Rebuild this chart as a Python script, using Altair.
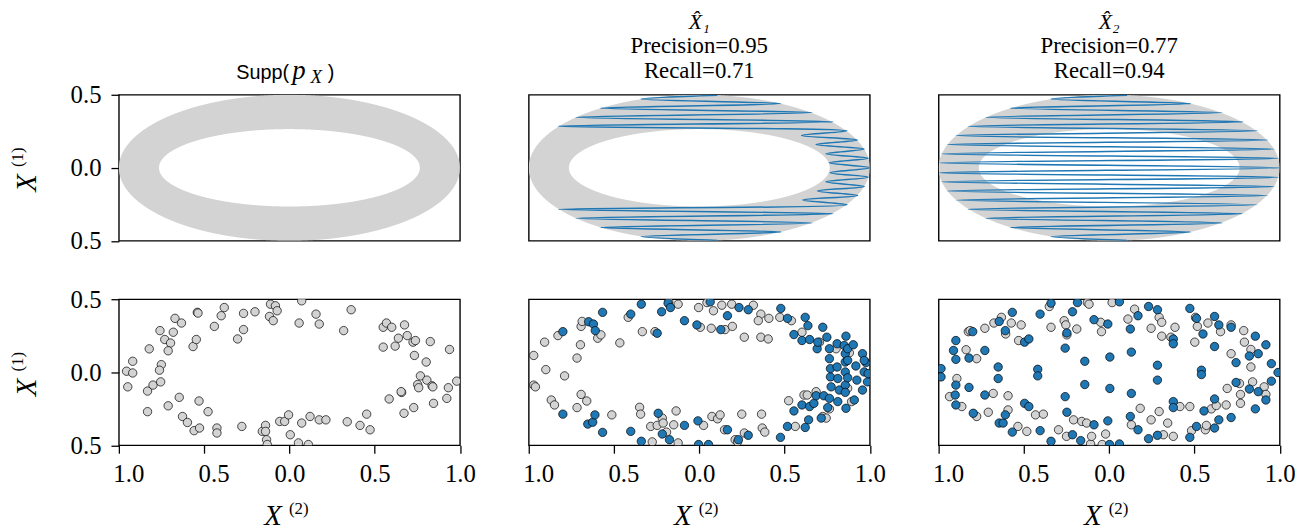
import altair as alt
import pandas as pd

GRAY = "#d3d3d3"
BLUE = "#1f77b4"
SERIF = "Liberation Serif"
SANS = "Liberation Sans"

# ---------------- data ----------------
outer_axes = [1.0, 0.5]      # semi-axes of the outer ellipse of the support
inner_axes = [0.765, 0.265]  # semi-axes of the inner (empty) ellipse

x_ticks = [-1.0, -0.5, 0.0, 0.5, 1.0]
y_ticks = [-0.5, 0.0, 0.5]

model_names = ["X\u0302\u2081", "X\u0302\u2082"]
precisions = ["0.95", "0.77"]
recalls = ["0.71", "0.94"]

# turning points of the generated curves (top to bottom)
zz_y = [0.497, 0.471, 0.440, 0.409, 0.378, 0.346, 0.315, 0.284, 0.253, 0.221, 0.190,
        0.159, 0.128, 0.096, 0.065, 0.034, 0.000, -0.034, -0.065, -0.096, -0.128, -0.159,
        -0.190, -0.221, -0.253, -0.284, -0.315, -0.346, -0.378, -0.409, -0.440, -0.471, -0.497]
zz1_x = [0.105, -0.341, 0.478, -0.580, 0.661, -0.723, 0.783, -0.826, 0.866, 0.600, 0.928,
         0.684, 0.967, 0.742, 0.990, 0.762, 1.000, 0.767, 0.990, 0.742, 0.967, 0.693,
         0.928, 0.607, 0.866, -0.826, 0.783, -0.723, 0.661, -0.580, 0.478, -0.341, 0.105]
zz2_x = [0.105, -0.341, 0.478, -0.580, 0.661, -0.723, 0.783, -0.826, 0.866, -0.897, 0.928,
         -0.948, 0.967, -0.981, 0.990, -0.994, 1.000, -0.994, 0.990, -0.981, 0.967, -0.948,
         0.928, -0.897, 0.866, -0.826, 0.783, -0.723, 0.661, -0.580, 0.478, -0.341, 0.105]

supp_points = [
    (-0.955, 0.007), (-0.919, 0.075), (-0.919, -0.005), (-0.948, -0.10), (-0.822, 0.16),
    (-0.832, -0.129), (-0.80, -0.088), (-0.832, -0.27), (-0.759, 0.285), (-0.731, 0.224),
    (-0.697, 0.20), (-0.711, 0.147), (-0.751, 0.052), (-0.762, 0.014), (-0.755, -0.066),
    (-0.711, -0.23), (-0.681, 0.274), (-0.671, 0.369), (-0.633, 0.337), (-0.646, -0.172),
    (-0.627, -0.303), (-0.598, -0.344), (-0.559, -0.40), (-0.527, -0.382), (-0.53, -0.197),
    (-0.565, 0.176), (-0.546, 0.224), (-0.540, 0.41), (-0.536, 0.405), (-0.477, -0.27),
    (-0.44, 0.314), (-0.425, -0.382), (-0.425, -0.416), (-0.40, 0.387), (-0.382, 0.443),
    (-0.304, 0.228), (-0.269, 0.292), (-0.269, 0.403), (-0.279, -0.371), (-0.202, 0.414),
    (-0.159, -0.405), (-0.14, -0.364), (-0.14, -0.405), (-0.134, -0.462), (-0.13, -0.495),
    (-0.111, 0.466), (-0.082, 0.455), (-0.117, 0.382), (-0.095, 0.353), (-0.072, 0.421),
    (-0.057, -0.337), (-0.028, -0.337), (-0.005, -0.292), (0.005, -0.428), (0.053, -0.484),
    (0.057, 0.337), (0.072, 0.489), (0.072, -0.348), (0.111, -0.495), (0.121, -0.303),
    (0.156, 0.398), (0.175, 0.33), (0.175, -0.326), (0.214, -0.326), (0.318, 0.285),
    (0.339, -0.339), (0.362, 0.428), (0.414, -0.364), (0.453, -0.287), (0.473, -0.394),
    (0.55, 0.308), (0.569, 0.337), (0.55, 0.172), (0.60, 0.308), (0.585, -0.183),
    (0.62, 0.179), (0.639, 0.233), (0.658, -0.138), (0.672, -0.281), (0.675, 0.324),
    (0.691, 0.251), (0.725, 0.206), (0.739, 0.217), (0.729, -0.242), (0.733, 0.115),
    (0.752, -0.084), (0.758, -0.106), (0.768, -0.025), (0.802, 0.07), (0.806, -0.054),
    (0.826, 0.21), (0.836, -0.093), (0.841, -0.10), (0.845, -0.213), (0.932, -0.106),
    (0.923, -0.179), (0.939, 0.156), (0.981, -0.061), (0.655, -0.133),
]

x1_gray = [
    (-0.971, 0.115), (-0.971, -0.088), (-0.961, -0.10), (-0.90, 0.018), (-0.907, 0.206),
    (-0.868, -0.19), (-0.849, -0.224), (-0.829, 0.251), (-0.79, -0.025), (-0.717, 0.097),
    (-0.697, 0.188), (-0.693, 0.314), (-0.687, 0.348), (-0.693, -0.152), (-0.66, -0.197),
    (-0.717, -0.242), (-0.596, 0.233), (-0.577, 0.256), (-0.513, -0.292), (-0.466, 0.201),
    (-0.417, 0.376), (-0.334, 0.278), (-0.35, -0.24), (-0.344, -0.287), (-0.285, -0.371),
    (-0.26, 0.278), (-0.276, -0.477), (-0.247, -0.364), (-0.217, -0.314), (-0.212, -0.348),
    (-0.192, -0.41), (-0.179, 0.482), (-0.15, -0.36), (-0.136, -0.265), (-0.124, -0.484),
    (-0.124, 0.466), (-0.004, 0.443), (0.006, 0.308), (0.025, -0.364), (0.045, 0.477),
    (0.07, 0.301), (0.074, -0.303), (0.083, 0.421), (0.107, -0.319), (0.122, -0.292),
    (0.132, 0.459), (0.151, 0.292), (0.148, -0.394), (0.194, 0.314), (0.19, 0.466),
    (0.21, -0.462), (0.225, -0.477), (0.249, -0.287), (0.264, -0.416), (0.264, 0.24),
    (0.317, 0.459), (0.361, 0.398), (0.346, 0.353), (0.365, -0.287), (0.369, -0.382),
    (0.384, -0.41), (0.361, 0.24), (0.404, 0.228), (0.408, 0.369), (0.472, 0.376),
    (0.54, 0.353), (0.524, -0.195), (0.563, -0.371), (0.602, 0.274), (0.614, -0.156),
    (0.633, -0.156), (0.685, -0.133), (0.705, 0.206), (0.724, -0.303), (0.744, -0.314),
    (0.763, -0.251), (0.802, 0.161), (0.87, -0.11), (0.893, -0.201), (0.88, 0.133),
]

x1_blue = [
    (-0.80, 0.278), (-0.80, -0.287), (-0.649, 0.346), (-0.621, 0.33), (-0.61, 0.285),
    (-0.567, 0.41), (-0.654, -0.355), (-0.625, -0.342), (-0.612, -0.292), (-0.567, -0.412),
    (-0.402, 0.398), (-0.34, 0.466), (-0.402, -0.405), (-0.34, -0.473), (-0.247, 0.267),
    (-0.241, -0.281), (-0.221, 0.414), (-0.217, -0.423), (-0.183, 0.473), (-0.169, 0.443),
    (-0.175, -0.462), (-0.087, 0.353), (-0.087, -0.364), (-0.014, 0.324), (-0.008, -0.333),
    (-0.004, -0.495), (0.054, -0.495), (0.064, 0.482), (0.126, 0.292), (0.165, 0.387),
    (0.165, -0.394), (0.229, -0.462), (0.233, 0.443), (0.287, 0.428), (0.287, -0.432),
    (0.478, 0.437), (0.476, -0.446), (0.517, 0.369), (0.517, -0.371), (0.555, 0.258),
    (0.555, -0.265), (0.602, 0.217), (0.602, -0.224), (0.621, 0.376), (0.637, 0.319),
    (0.641, -0.326), (0.621, -0.378), (0.647, 0.224), (0.647, -0.235), (0.672, -0.213),
    (0.685, -0.161), (0.691, 0.161), (0.695, 0.206), (0.715, -0.314), (0.724, 0.308),
    (0.73, -0.161), (0.748, 0.24), (0.753, -0.242), (0.763, 0.093), (0.763, 0.161),
    (0.769, -0.032), (0.773, -0.10), (0.763, -0.179), (0.769, 0.025), (0.808, 0.036),
    (0.808, 0.195), (0.812, -0.043), (0.812, -0.201), (0.821, -0.122), (0.85, 0.183),
    (0.856, 0.127), (0.856, 0.07), (0.856, 0.002), (0.856, -0.088), (0.856, -0.138),
    (0.86, -0.247), (0.86, 0.247), (0.87, 0.161), (0.87, 0.081), (0.87, -0.038),
    (0.903, 0.188), (0.909, -0.19), (0.918, 0.043), (0.924, -0.054), (0.957, 0.127),
    (0.957, -0.122), (0.967, 0.002), (0.977, 0.066), (0.986, -0.066), (0.99, -0.009),
    (0.967, 0.081),
]

x2_gray = [
    (-0.893, -0.043), (-0.936, -0.167), (-0.864, -0.235), (-0.839, 0.154), (-0.826, 0.278),
    (-0.816, 0.285), (-0.777, 0.093), (-0.777, -0.303), (-0.729, 0.301), (-0.709, -0.274),
    (-0.68, -0.145), (-0.676, 0.337), (-0.632, 0.376), (-0.607, 0.262), (-0.593, -0.161),
    (-0.593, -0.258), (-0.574, 0.337), (-0.535, -0.371), (-0.531, 0.217), (-0.516, 0.324),
    (-0.483, -0.405), (-0.432, -0.292), (-0.386, -0.287), (-0.351, 0.45), (-0.341, 0.308),
    (-0.297, -0.394), (-0.264, 0.353), (-0.254, 0.324), (-0.248, 0.256), (-0.25, -0.439),
    (-0.209, -0.326), (-0.19, 0.296), (-0.161, -0.337), (-0.132, -0.348), (-0.128, 0.477),
    (-0.118, 0.466), (-0.109, -0.491), (-0.103, -0.439), (-0.05, 0.342), (-0.041, -0.495),
    (-0.045, 0.278), (-0.021, -0.423), (0.017, 0.477), (0.11, 0.364), (0.13, -0.36),
    (0.149, 0.432), (0.182, -0.247), (0.246, 0.301), (0.246, -0.326), (0.293, 0.376),
    (0.293, -0.269), (0.308, 0.342), (0.308, 0.247), (0.318, -0.428), (0.343, -0.348),
    (0.376, -0.439), (0.386, 0.308), (0.362, 0.24), (0.415, -0.235), (0.473, -0.235),
    (0.483, -0.40), (0.506, 0.376), (0.517, 0.314), (0.502, 0.206), (0.564, -0.394),
    (0.57, -0.364), (0.579, 0.337), (0.599, -0.251), (0.628, -0.228), (0.653, 0.278),
    (0.686, -0.224), (0.692, -0.111), (0.715, 0.324), (0.715, 0.127), (0.764, -0.077),
    (0.77, -0.152), (0.77, -0.213), (0.789, 0.285), (0.793, 0.206), (0.831, 0.156),
    (0.831, 0.036), (0.841, -0.066), (0.909, -0.10), (0.919, -0.152),
]

x2_blue = [
    (-0.986, 0.025), (-0.986, -0.032), (-0.913, 0.149), (-0.899, 0.217), (-0.899, 0.088),
    (-0.899, -0.088), (-0.903, -0.156), (-0.899, -0.224), (-0.822, 0.097), (-0.822, -0.104),
    (-0.80, 0.278), (-0.797, -0.281), (-0.729, 0.149), (-0.729, -0.156), (-0.651, 0.036),
    (-0.651, -0.043), (-0.645, 0.348), (-0.645, -0.348), (-0.622, -0.348), (-0.609, 0.285),
    (-0.609, -0.292), (-0.568, 0.41), (-0.568, -0.41), (-0.496, 0.206), (-0.496, -0.213),
    (-0.471, 0.228), (-0.471, -0.235), (-0.419, 0.02), (-0.419, -0.025), (-0.405, 0.398),
    (-0.405, -0.40), (-0.341, 0.473), (-0.341, -0.473), (-0.258, 0.165), (-0.258, -0.167),
    (-0.248, 0.269), (-0.248, -0.274), (-0.215, 0.414), (-0.215, -0.428), (-0.186, 0.477),
    (-0.167, -0.468), (-0.143, 0.075), (-0.143, -0.084), (-0.089, 0.36), (-0.089, -0.36),
    (-0.008, 0.33), (-0.008, -0.333), (0.004, 0.104), (0.004, -0.111), (0.002, -0.495),
    (0.06, 0.482), (0.06, -0.491), (0.124, 0.296), (0.124, -0.303), (0.13, 0.138),
    (0.13, -0.145), (0.169, 0.387), (0.169, -0.394), (0.231, 0.45), (0.231, -0.455),
    (0.283, 0.428), (0.283, -0.432), (0.283, 0.048), (0.283, -0.054), (0.376, 0.228),
    (0.376, 0.195), (0.376, -0.201), (0.376, -0.242), (0.473, 0.437), (0.473, -0.446),
    (0.512, 0.369), (0.512, -0.371), (0.541, 0.014), (0.541, -0.016), (0.55, 0.262),
    (0.556, -0.265), (0.618, 0.382), (0.618, 0.176), (0.618, -0.183), (0.618, -0.382),
    (0.643, 0.324), (0.643, -0.326), (0.715, 0.308), (0.715, -0.31), (0.744, 0.066),
    (0.744, -0.07), (0.822, 0.111), (0.822, -0.115), (0.857, 0.247), (0.857, -0.251),
    (0.874, 0.127), (0.874, -0.133), (0.919, 0.188), (0.919, -0.19), (0.951, 0.059),
    (0.951, -0.061), (0.99, -0.002),
]

# ---------------- chart ----------------
W, H = 344.5, 147.5
xs = alt.Scale(domain=[-1, 1], nice=False, zero=False, padding=0)
ys = alt.Scale(domain=[-0.5, 0.5], nice=False, zero=False, padding=0)
LABEL_EXPR = "format(abs(datum.value), '.1f')"


def x_axis(show):
    if not show:
        return None
    # negative labels keep the (invisible) minus sign's room, as in the original
    return alt.Axis(values=x_ticks, labelExpr=LABEL_EXPR, title=None, labelPadding=9,
                    labelOffset={"condition": {"test": "datum.value < 0", "value": 9.5},
                                 "value": 0})


def y_axis(show):
    if not show:
        return None
    return alt.Axis(values=y_ticks, labelExpr=LABEL_EXPR, title=None, labelPadding=10)


def enc(xf, yf, sx, sy):
    return dict(
        x=alt.X(xf, type="quantitative", scale=xs, axis=x_axis(sx)),
        y=alt.Y(yf, type="quantitative", scale=ys, axis=y_axis(sy)),
    )


def ellipse_area(axes, color, sy):
    a, b = axes
    return (
        alt.Chart(alt.sequence(-a, a + 0.0005, 0.002, as_="t"))
        .transform_calculate(top=f"{b} * sqrt(max(0, 1 - pow(datum.t / {a}, 2)))")
        .transform_calculate(bot="-datum.top")
        .mark_area(color=color, clip=True, opacity=1)
        .encode(**enc("t", "top", False, sy), y2="bot:Q")
    )


def ring(sy):
    return [ellipse_area(outer_axes, GRAY, sy), ellipse_area(inner_axes, "white", sy)]


def zigzag(xvals):
    df = pd.DataFrame({"i": list(range(len(xvals))), "x": xvals, "y": zz_y})
    return (
        alt.Chart(df)
        .mark_line(color=BLUE, strokeWidth=1.5, clip=True, interpolate="catmull-rom")
        .encode(**enc("x", "y", False, False), order="i:Q")
    )


def dots(points, color, sx, sy):
    df = pd.DataFrame(points, columns=["x", "y"])
    return (
        alt.Chart(df)
        .mark_circle(size=72, fill=color, stroke="black", strokeWidth=0.7, opacity=1, clip=True)
        .encode(**enc("x", "y", sx, sy))
    )


def txt(s, font, size, style, px, py, angle=0):
    return (
        alt.Chart(pd.DataFrame({"s": [s]}))
        .mark_text(font=font, fontSize=size, fontStyle=style, align="left",
                   baseline="alphabetic", color="black", angle=angle)
        .encode(text="s:N", x=alt.value(px), y=alt.value(py))
    )


def supp_title():
    return [
        txt("Supp(", SANS, 20, "normal", 118.5, -16),
        txt("p", SERIF, 27, "italic", 175, -16),
        txt("X", SERIF, 19, "italic", 193.5, -12),
        txt(")", SANS, 20, "normal", 211, -16),
    ]


def y_title():
    return [
        txt("X", SERIF, 29, "italic", -83.5, 98, angle=270),
        txt("(1)", SERIF, 17, "normal", -97, 73, angle=270),
    ]


def x_title():
    return [
        txt("X", SERIF, 29, "italic", W / 2 - 25.5, H + 80.5),
        txt("(2)", SERIF, 17, "normal", W / 2 - 0.5, H + 69.5),
    ]


def model_title(k):
    return alt.TitleParams(
        text=model_names[k],
        subtitle=[f"Precision={precisions[k]}", f"Recall={recalls[k]}"],
        font=SERIF, fontSize=22, fontStyle="italic", fontWeight="normal", color="black",
        subtitleFont=SERIF, subtitleFontSize=23, subtitleColor="black",
        subtitleLineHeight=25, subtitlePadding=1, offset=11, anchor="middle",
    )


p11 = alt.layer(*ring(True), *supp_title(), *y_title()).properties(width=W, height=H)
p12 = alt.layer(*ring(False), zigzag(zz1_x)).properties(width=W, height=H, title=model_title(0))
p13 = alt.layer(*ring(False), zigzag(zz2_x)).properties(width=W, height=H, title=model_title(1))

p21 = alt.layer(dots(supp_points, GRAY, True, True), *y_title(), *x_title()).properties(width=W, height=H)
p22 = alt.layer(dots(x1_gray, GRAY, True, False), dots(x1_blue, BLUE, True, False),
                *x_title()).properties(width=W, height=H)
p23 = alt.layer(dots(x2_gray, GRAY, True, False), dots(x2_blue, BLUE, True, False),
                *x_title()).properties(width=W, height=H)

chart = (
    alt.concat(p11, p12, p13, p21, p22, p23, columns=3,
               spacing={"row": 58.5, "column": 69}, bounds="flush")
    .properties(padding={"left": 0, "top": 0, "right": 5, "bottom": 0}, background="white")
    .configure_view(stroke="black", strokeWidth=1.4)
    .configure_axis(domain=False, ticks=True, tickColor="black", tickWidth=1.3, tickSize=8,
                    labelFont=SERIF, labelFontSize=25, labelColor="black", labelFlush=False,
                    grid=False)
)

chart.save("out.html", embed_options={"renderer": "svg", "actions": False})
